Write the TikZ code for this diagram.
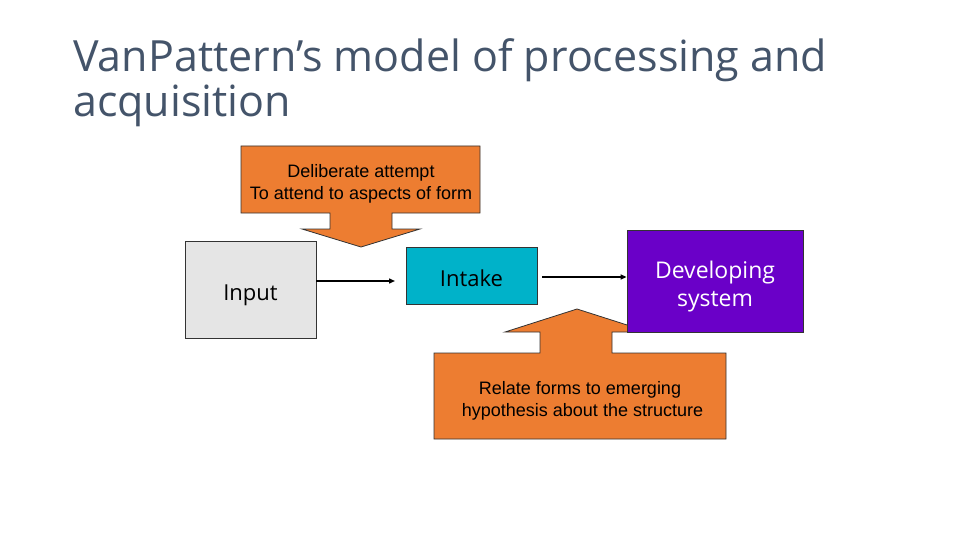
\documentclass[tikz,border=0pt]{standalone}
\usepackage{fontspec}
\setmainfont{Liberation Sans}
\newfontfamily\titlefont[WordSpace={2.4}]{Open Sans}
\newfontfamily\boxfont{Open Sans}
\usetikzlibrary{arrows.meta}
\definecolor{calloutorange}{HTML}{ED7D31}
\definecolor{intaketeal}{HTML}{00B2C9}
\definecolor{inputgrey}{HTML}{E5E5E5}
\definecolor{devpurple}{HTML}{6A00C8}
\definecolor{titleblue}{HTML}{44546A}
\tikzset{
  titletext/.style={anchor=base west, inner sep=0pt, text=titleblue, font=\titlefont\fontsize{43}{45}\selectfont},
  callout/.style={fill=calloutorange, draw=black!80, line width=0.8pt},
  callouttext/.style={align=center, inner sep=0pt, font=\fontsize{18}{22}\selectfont},
  procbox/.style={draw=black!80, line width=0.8pt, inner sep=0pt, font=\boxfont\fontsize{22}{28}\selectfont, align=center},
  conn/.style={line width=1.4pt, -{Triangle[length=6pt,width=5pt]}}
}
\begin{document}
\begin{tikzpicture}[x=1pt,y=-1pt]
\useasboundingbox (0,0) rectangle (960,540);
% title
\node[titletext] (title1) at (73,72) {VanPattern’s model of processing and};
\node[titletext] (title2) at (73,117) {acquisition};
% top callout
\draw[callout] (241,146) -- (480,146) -- (480,213) -- (392,213) -- (392,229) -- (420,229)
  -- (361,247) -- (302,229) -- (330,229) -- (330,213) -- (241,213) -- cycle;
\node[callouttext] (topcall) at (361,184) {Deliberate attempt\\To attend to aspects of form};
% bottom callout
\draw[callout] (434,439) -- (726,439) -- (726,353) -- (612,353) -- (612,332) -- (649,332)
  -- (577,309) -- (505,332) -- (540,332) -- (540,353) -- (434,353) -- cycle;
\node[callouttext] (botcall) at (580,401) {Relate forms to emerging\\\ hypothesis about the structure};
% boxes
\node[procbox, fill=inputgrey, minimum width=131pt, minimum height=97pt] (input) at (250.5,289.5) {\raisebox{-11pt}[0pt][0pt]{Input}};
\node[procbox, fill=intaketeal, minimum width=131pt, minimum height=57pt] (intake) at (471.5,275.5) {\raisebox{-11pt}[0pt][0pt]{Intake}};
\node[procbox, fill=devpurple, text=white, minimum width=176pt, minimum height=102pt, font=\boxfont\fontsize{23}{28}\selectfont] (dev) at (715,281) {\raisebox{-12pt}[0pt][0pt]{\parbox{150pt}{\centering Developing\\system}}};
% connectors
\coordinate (a1e) at (395,281);
\coordinate (a2s) at (542,277);
\draw[conn] (input.east |- a1e) -- (a1e);
\draw[conn] (a2s) -- (a2s -| dev.west);
\end{tikzpicture}
\end{document}
